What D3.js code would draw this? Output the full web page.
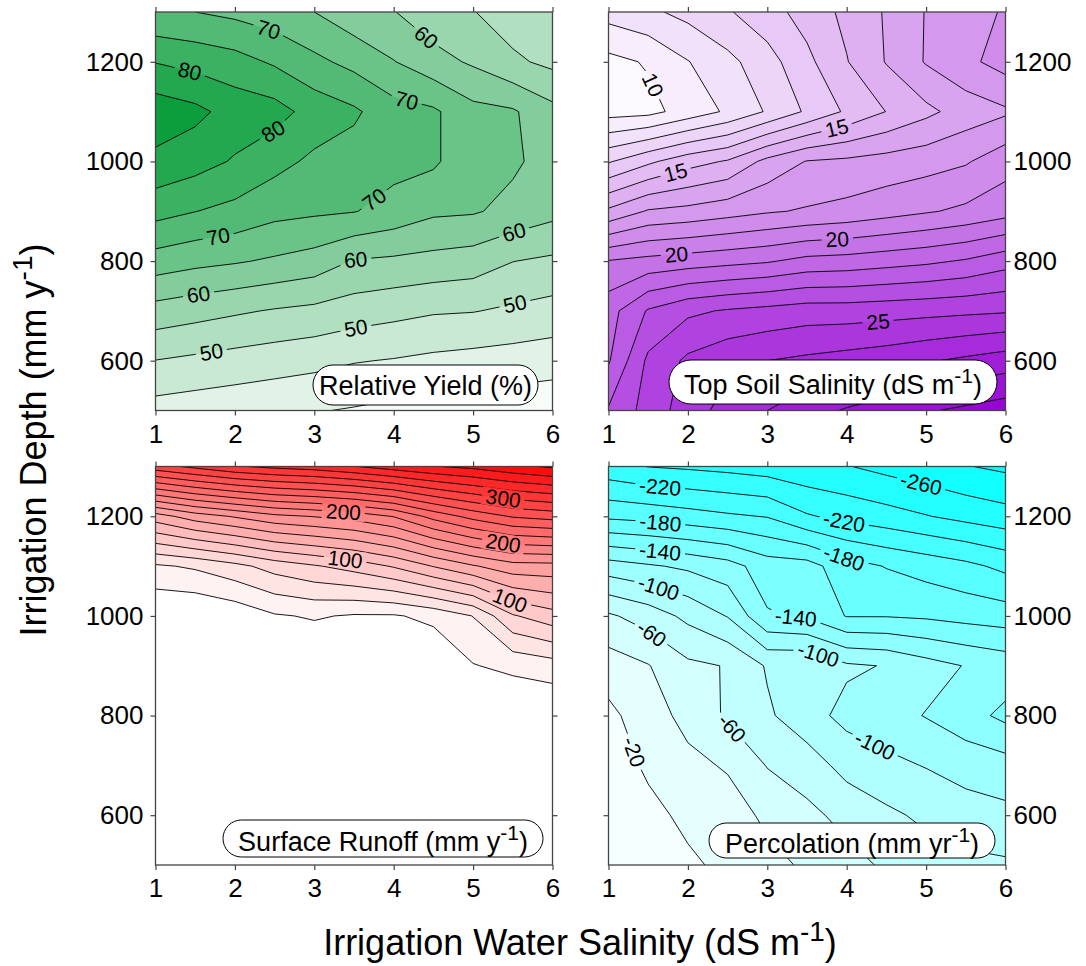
<!DOCTYPE html>
<html>
<head>
<meta charset="utf-8">
<script src="https://cdn.jsdelivr.net/npm/d3@7"></script>
<style>
  body { margin: 0; background: #fff; }
  text { font-family: "Liberation Sans", Arial, Helvetica, sans-serif; }
</style>
</head>
<body>
<script>
// grid columns (irrigation water salinity) and rows (irrigation depth, top to bottom)
const salinity = [1, 1.5, 2, 2.5, 3, 3.5, 4, 4.5, 5, 5.5, 6];
const depth = [1300, 1200, 1100, 1000, 900, 800, 700, 600, 500];
const xTicks = [1, 2, 3, 4, 5, 6];
const yTicks = [600, 800, 1000, 1200];

// relative yield (%)
const yieldLevels = [40, 45, 50, 55, 60, 65, 70, 75, 80, 85];
const yieldGrid = [
  [70.5, 70.0, 68.8, 67.3, 65.0, 61.8, 60.2, 57.0, 55.2, 52.5, 50.5],
  [79.8, 78.3, 76.9, 74.3, 71.2, 68.5, 65.2, 61.8, 59.3, 55.9, 53.8],
  [88.0, 86.3, 83.0, 82.0, 78.0, 75.8, 72.0, 70.8, 66.5, 65.6, 61.5],
  [83.8, 82.0, 79.5, 76.6, 74.0, 72.9, 71.5, 70.8, 66.5, 65.8, 63.0],
  [76.8, 75.1, 73.6, 71.5, 70.8, 70.2, 68.3, 65.9, 65.5, 63.6, 61.5],
  [67.8, 66.4, 65.5, 64.3, 62.9, 59.7, 59.1, 58.4, 57.6, 55.1, 54.1],
  [58.1, 56.9, 55.7, 54.6, 53.8, 52.5, 51.5, 50.5, 50.2, 49.2, 48.2],
  [49.9, 49.0, 48.1, 47.3, 46.5, 45.3, 44.7, 43.9, 43.3, 42.8, 42.2],
  [43.0, 42.3, 41.7, 41.0, 40.3, 39.6, 38.7, 38.0, 37.5, 37.0, 36.5]
];
const yieldLabels = [[70, 2.41, 1257], [60, 4.36, 1240], [80, 1.43, 1180], [70, 4.17, 1127],
  [80, 2.50, 1056], [70, 3.81, 912], [70, 1.79, 849], [60, 5.53, 849], [60, 3.52, 805],
  [60, 1.54, 736], [50, 5.53, 712], [50, 3.52, 668], [50, 1.70, 621]];

// top soil salinity (dS m-1)
const soilLevels = [10, 11, 12, 13, 14, 15, 16, 17, 18, 19, 20, 21, 22, 23, 24, 25, 26, 27, 28, 29];
const soilGrid = [
  [11.4, 11.8, 12.3, 12.9, 13.6, 14.4, 15.25, 16.1, 17.05, 17.6, 18.1],
  [9.7, 10.1, 10.96, 11.72, 12.6, 13.75, 14.95, 16.06, 17.08, 17.76, 18.4],
  [9.6, 9.7, 10.4, 11.15, 12.1, 13.15, 14.15, 15.02, 15.75, 16.45, 16.85],
  [12.9, 13.8, 14.6, 15.1, 16.3, 17.05, 17.2, 17.4, 17.6, 17.9, 18.6],
  [16.2, 17.1, 17.3, 17.6, 17.9, 18.1, 18.3, 18.6, 18.9, 19.2, 19.6],
  [20.05, 20.3, 20.5, 20.7, 20.9, 21.3, 21.4, 21.6, 21.8, 22.1, 22.6],
  [21.6, 23.1, 23.8, 24.1, 24.3, 24.5, 24.5, 24.6, 24.7, 24.8, 24.9],
  [21.9, 24.2, 25.2, 25.7, 26.0, 26.2, 26.4, 26.6, 26.9, 27.2, 27.5],
  [23.1, 24.4, 25.5, 26.4, 27.0, 27.6, 28.1, 28.5, 28.9, 29.2, 29.5]
];
const soilLabels = [[10, 1.55, 1153], [15, 3.88, 1063], [15, 1.86, 969], [20, 3.88, 849],
  [20, 1.86, 805], [25, 4.40, 668]];

// surface runoff (mm y-1)
const runoffLevels = [20, 40, 60, 80, 100, 120, 140, 160, 180, 200, 220, 240, 260, 280, 300, 320, 340, 360, 380];
const runoffGrid = [
  [292, 305, 318, 325, 330, 339, 350, 359, 365, 375, 383],
  [131, 150, 162, 175, 181, 188, 201, 227, 247, 262, 268],
  [37, 43, 54, 68, 78, 88, 102, 121, 138, 152, 153],
  [0, 0, 6, 18, 22, 18, 18, 25.5, 40.5, 78, 92],
  [0, 0, 0, 0, 0, 0, 0, 0, 19, 25, 31],
  [0, 0, 0, 0, 0, 0, 0, 0, 0, 0, 0],
  [0, 0, 0, 0, 0, 0, 0, 0, 0, 0, 0],
  [0, 0, 0, 0, 0, 0, 0, 0, 0, 0, 0],
  [0, 0, 0, 0, 0, 0, 0, 0, 0, 0, 0]
];
const runoffLabels = [[200, 3.37, 1217], [300, 5.38, 1237], [200, 5.38, 1146], [100, 3.39, 1116],
  [100, 5.49, 1042]];

// percolation (mm yr-1)
const percLevels = [-280, -260, -240, -220, -200, -180, -160, -140, -120, -100, -80, -60, -40, -20];
const percGrid = [
  [-233, -240.5, -243, -246, -250, -255, -259, -266, -272, -279, -284],
  [-184, -187, -192, -197, -201, -218, -226, -232, -239, -246, -252],
  [-111, -117.5, -123.6, -132, -150, -152, -172, -181, -188, -195, -205],
  [-57, -69, -85, -101, -138, -143, -161, -161, -163, -167, -170],
  [-30, -39, -56, -61, -82, -81, -97, -101, -112, -121, -128],
  [-15, -31, -46, -63, -77, -92, -106, -112, -121, -132, -145],
  [-10, -23, -35, -42, -61, -70, -87, -95, -101, -108, -112],
  [-6, -15, -24, -31, -44, -55, -66, -76, -84, -91, -95],
  [-3, -10, -17, -24, -34, -43, -53, -63, -71, -75, -77]
];
const percLabels = [[-220, 1.65, 1260], [-260, 4.91, 1247], [-220, 3.96, 1183], [-180, 1.65, 1183],
  [-180, 3.98, 1123], [-140, 1.65, 1130], [-100, 1.63, 1056], [-140, 3.35, 983], [-60, 1.55, 966],
  [-100, 3.65, 926], [-60, 2.47, 763], [-100, 4.30, 722], [-20, 1.30, 726]];

const W = 397, H = 398.5;
const panels = [
  { grid: yieldGrid, levels: yieldLevels, labels: yieldLabels, x0: 155.5, y0: 12, side: 'left',
    dom: [36, 90], ramp: ['#ffffff', '#009933'], title: 'Relative Yield (%)', sup: null, box: [313, 365, 225, 40] },
  { grid: soilGrid, levels: soilLevels, labels: soilLabels, x0: 608.5, y0: 12, side: 'right',
    dom: [9, 30], ramp: ['#ffffff', '#9400d3'], title: 'Top Soil Salinity (dS m', sup: '-1', box: [669, 360, 328, 44] },
  { grid: runoffGrid, levels: runoffLevels, labels: runoffLabels, x0: 155.5, y0: 466.5, side: 'left',
    dom: [10, 390], ramp: ['#ffffff', '#ff0000'], title: 'Surface Runoff (mm y', sup: '-1', box: [223, 820, 320, 37] },
  { grid: percGrid, levels: percLevels, labels: percLabels, x0: 608.5, y0: 466.5, side: 'right',
    dom: [-290, 0], ramp: ['#00ffff', '#ffffff'], title: 'Percolation (mm yr', sup: '-1', box: [709, 823, 286, 35] }
];

const svg = d3.select('body').append('svg')
  .attr('width', 1086)
  .attr('height', 966);

panels.forEach((p, idx) => {
  const x = d3.scaleLinear().domain([1, 6]).range([p.x0, p.x0 + W]);
  const y = d3.scaleLinear().domain([500, 1300]).range([p.y0 + H, p.y0]);
  // grid index space -> data space (value i sits at i + 0.5)
  const gx = d3.scaleLinear().domain([0.5, salinity.length - 0.5]).range([salinity[0], salinity[salinity.length - 1]]);
  const gy = d3.scaleLinear().domain([0.5, depth.length - 0.5]).range([depth[0], depth[depth.length - 1]]);
  const px = c => x(gx(c));
  const py = r => y(gy(r));
  const path = d3.geoPath(d3.geoTransform({
    point: function (a, b) { this.stream.point(px(a), py(b)); }
  }));
  const color = d3.scaleLinear().domain(p.dom).range(p.ramp).clamp(true);
  const step = p.levels[1] - p.levels[0];

  const contours = d3.contours()
    .size([salinity.length, depth.length])
    .thresholds(p.levels)(p.grid.flat());

  svg.append('clipPath').attr('id', 'clip' + idx)
    .append('rect')
    .attr('x', p.x0).attr('y', p.y0).attr('width', W).attr('height', H);

  const g = svg.append('g').attr('clip-path', `url(#clip${idx})`);
  g.append('rect')
    .attr('x', p.x0).attr('y', p.y0).attr('width', W).attr('height', H)
    .attr('fill', color(p.levels[0] - step / 2));
  g.selectAll('path.band')
    .data(contours)
    .join('path')
    .attr('class', 'band')
    .attr('d', path)
    .attr('fill', d => color(d.value + step / 2))
    .attr('stroke', d => color(d.value + step / 2))
    .attr('stroke-width', 0.3);

  // find where each label sits on its contour line
  const inside = (a, b) => a >= p.x0 - 0.5 && a <= p.x0 + W + 0.5 && b >= p.y0 - 0.5 && b <= p.y0 + H + 0.5;
  function snap(level, sx, sd) {
    const c = contours.find(d => d.value === level);
    const tx = x(sx), ty = y(sd);
    let best = null;
    c.coordinates.forEach(poly => poly.forEach(ring => {
      for (let i = 1; i < ring.length; i++) {
        const ax = px(ring[i - 1][0]), ay = py(ring[i - 1][1]);
        const bx = px(ring[i][0]), by = py(ring[i][1]);
        if (!inside(ax, ay) || !inside(bx, by)) continue;
        const dx = bx - ax, dy = by - ay, L2 = dx * dx + dy * dy;
        let t = L2 ? ((tx - ax) * dx + (ty - ay) * dy) / L2 : 0;
        t = Math.max(0, Math.min(1, t));
        const qx = ax + t * dx, qy = ay + t * dy;
        const dist = (qx - tx) ** 2 + (qy - ty) ** 2;
        if (!best || dist < best.dist) best = { x: qx, y: qy, dist: dist, ang: Math.atan2(dy, dx) * 180 / Math.PI };
      }
    }));
    if (!best) return { x: tx, y: ty, ang: 0 };
    let a = best.ang;
    if (a > 90) a -= 180;
    if (a < -90) a += 180;
    best.ang = a;
    return best;
  }

  const placed = p.labels.map(l => Object.assign({ v: l[0] }, snap(l[0], l[1], l[2])));

  const mask = svg.append('mask').attr('id', 'mask' + idx)
    .attr('maskUnits', 'userSpaceOnUse')
    .attr('x', 0).attr('y', 0).attr('width', 1086).attr('height', 966);
  mask.append('rect').attr('x', 0).attr('y', 0).attr('width', 1086).attr('height', 966).attr('fill', '#fff');

  const lineG = g.append('g').attr('mask', `url(#mask${idx})`);
  lineG.selectAll('path')
    .data(contours)
    .join('path')
    .attr('d', path)
    .attr('fill', 'none')
    .attr('stroke', '#000')
    .attr('stroke-width', 0.9);

  const labelG = svg.append('g');
  placed.forEach(l => {
    const t = labelG.append('text')
      .attr('transform', `translate(${l.x},${l.y}) rotate(${l.ang})`)
      .attr('text-anchor', 'middle')
      .attr('dy', '0.36em')
      .style('font-size', '21px')
      .text(l.v);
    const w = t.node().getComputedTextLength() + 8;
    mask.append('rect')
      .attr('x', -w / 2).attr('y', -9).attr('width', w).attr('height', 18)
      .attr('transform', `translate(${l.x},${l.y}) rotate(${l.ang})`)
      .attr('fill', '#000');
  });

  // frame and ticks
  const tickCol = '#444';
  const fmt = d3.format('d');
  const axes = [
    d3.axisBottom(x).tickValues(xTicks).tickSize(5).tickPadding(9).tickFormat(fmt),
    d3.axisTop(x).tickValues(xTicks).tickSize(5).tickFormat(''),
    d3.axisLeft(y).tickValues(yTicks).tickSize(5).tickPadding(7).tickFormat(p.side === 'left' ? fmt : ''),
    d3.axisRight(y).tickValues(yTicks).tickSize(5).tickPadding(3).tickFormat(p.side === 'right' ? fmt : '')
  ];
  const shifts = [[0, p.y0 + H], [0, p.y0], [p.x0, 0], [p.x0 + W, 0]];
  axes.forEach((ax, i) => {
    const a = svg.append('g')
      .attr('transform', `translate(${shifts[i][0]},${shifts[i][1]})`)
      .call(ax.tickSizeOuter(0));
    a.select('.domain').remove();
    a.selectAll('line').attr('stroke', tickCol).attr('stroke-width', 1.2);
    a.selectAll('text')
      .attr('fill', '#000')
      .style('font-size', '26px')
      .style('font-family', '"Liberation Sans", Arial, sans-serif');
  });
  svg.append('rect')
    .attr('x', p.x0).attr('y', p.y0).attr('width', W).attr('height', H)
    .attr('fill', 'none').attr('stroke', tickCol).attr('stroke-width', 1.3);

  // panel title box
  const [bx, by, bw, bh] = p.box;
  svg.append('rect')
    .attr('x', bx).attr('y', by).attr('width', bw).attr('height', bh)
    .attr('rx', bh / 2).attr('ry', bh / 2)
    .attr('fill', '#fff').attr('stroke', '#000').attr('stroke-width', 1);
  const tt = svg.append('text')
    .attr('x', bx + bw / 2)
    .attr('y', by + bh / 2 + (p.sup ? 12 : 9.5))
    .attr('text-anchor', 'middle')
    .style('font-size', '27px')
    .text(p.title);
  if (p.sup) {
    tt.append('tspan').attr('dy', -11).style('font-size', '21px').text(p.sup);
    tt.append('tspan').attr('dy', 11).text(')');
  }
});

// axis titles
const yt = svg.append('text')
  .attr('transform', 'translate(46,440) rotate(-90)')
  .attr('text-anchor', 'middle')
  .style('font-size', '36px')
  .text('Irrigation Depth (mm y');
yt.append('tspan').attr('dy', -14).style('font-size', '28px').text('-1');
yt.append('tspan').attr('dy', 14).text(')');

const xt = svg.append('text')
  .attr('x', 580)
  .attr('y', 955)
  .attr('text-anchor', 'middle')
  .style('font-size', '36px')
  .text('Irrigation Water Salinity (dS m');
xt.append('tspan').attr('dy', -14).style('font-size', '28px').text('-1');
xt.append('tspan').attr('dy', 14).text(')');
</script>
</body>
</html>
